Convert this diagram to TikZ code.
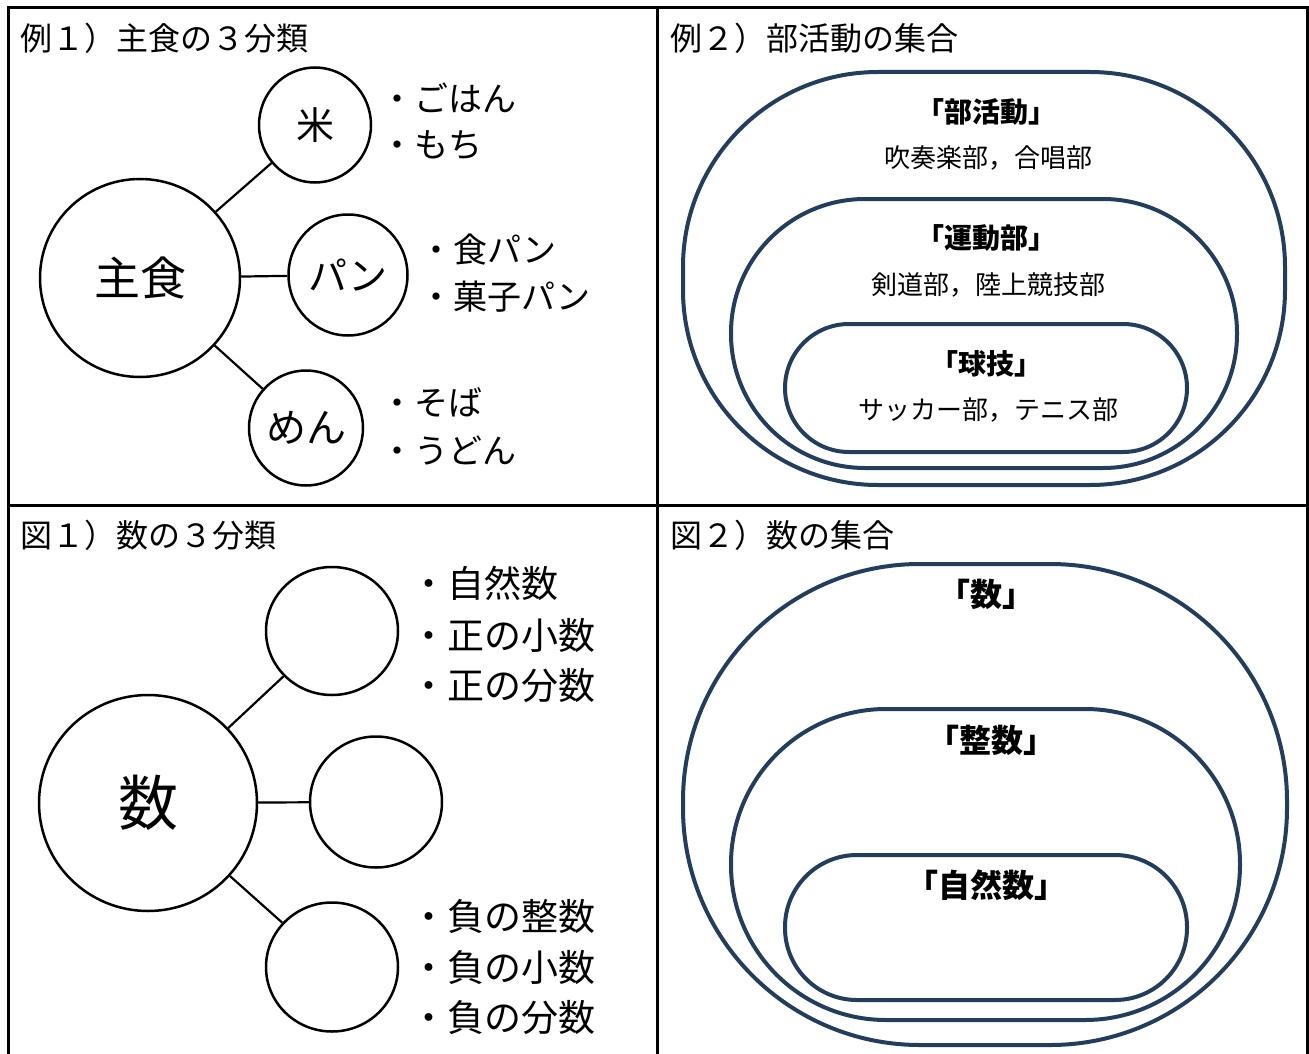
\documentclass[tikz,border=0pt]{standalone}
\usepackage{fontspec}
\setmainfont{Noto Sans CJK JP}
\usetikzlibrary{shapes.geometric}
\definecolor{navy}{RGB}{35,62,92}
\tikzset{
  frameline/.style={line width=3pt, line cap=rect},
  bub/.style={draw, ellipse, line width=2.5pt, inner sep=0pt},
  link/.style={line width=2.2pt},
  setbox/.style={draw=navy, line width=4pt, rectangle, inner sep=0pt},
  ttl/.style={anchor=west, inner sep=0pt, font=\fontsize{32}{36}\selectfont},
  itemA/.style={anchor=west, inner sep=0pt, font=\fontsize{34}{38}\selectfont},
  itemB/.style={anchor=west, inner sep=0pt, font=\fontsize{37}{40}\selectfont},
  sethead/.style={inner sep=0pt, font=\fontsize{28}{32}\selectfont\bfseries},
  setbody/.style={inner sep=0pt, font=\fontsize{26}{30}\selectfont},
  setheadB/.style={inner sep=0pt, font=\fontsize{32}{36}\selectfont\bfseries},
}
\begin{document}
\begin{tikzpicture}[x=1pt,y=-1pt]
\useasboundingbox (0,0) rectangle (1309,1054);
% frame
\draw[frameline] (8,1054) -- (8,8) -- (1307,8) -- (1307,1054);
\draw[frameline] (657,8) -- (657,1054);
\draw[frameline] (8,505) -- (1307,505);

% ---------- Panel 1 ----------
\node[ttl] (t1) at (20,38) {例１）主食の３分類};
\node[bub, minimum width=200pt, minimum height=198pt, font=\fontsize{46}{50}\selectfont] (main) at (140,278) {主食};
\node[bub, minimum width=112pt, minimum height=115pt, font=\fontsize{38}{42}\selectfont] (rice) at (315,125) {米};
\node[bub, minimum width=119pt, minimum height=121pt, font=\fontsize{39}{43}\selectfont] (bread) at (348,275) {パン};
\node[bub, minimum width=114pt, minimum height=115pt, font=\fontsize{40}{44}\selectfont] (noodle) at (306,428) {めん};
\draw[link] (main) -- (rice);
\draw[link] (main) -- (bread);
\draw[link] (main) -- (noodle);
\node[itemA] (r1) at (380,98) {・ごはん};
\node[itemA] (r2) at (380,145) {・もち};
\node[itemA] (b1) at (419,250) {・食パン};
\node[itemA] (b2) at (419,297) {・菓子パン};
\node[itemA] (n1) at (380,402) {・そば};
\node[itemA] (n2) at (380,450) {・うどん};

% ---------- Panel 2 ----------
\node[ttl] (t2) at (670,38) {例２）部活動の集合};
\node[setbox, rounded corners=195pt, minimum width=602pt, minimum height=413pt] (club) at (984,278.5) {};
\node[setbox, rounded corners=134pt, minimum width=506pt, minimum height=269pt] (sport) at (984,333.5) {};
\node[setbox, rounded corners=64pt, minimum width=402pt, minimum height=128pt] (ball) at (986,388) {};
\node[sethead] (h1) at (986,112) {「部活動」};
\node[setbody] (s1) at (988,158) {吹奏楽部，合唱部};
\node[sethead] (h2) at (986,238) {「運動部」};
\node[setbody] (s2) at (988,285) {剣道部，陸上競技部};
\node[sethead] (h3) at (986,364) {「球技」};
\node[setbody] (s3) at (988,410) {サッカー部，テニス部};

% ---------- Panel 3 ----------
\node[ttl] (t3) at (20,535) {図１）数の３分類};
\node[bub, minimum width=218pt, minimum height=216pt, font=\fontsize{60}{64}\selectfont] (num) at (148,803) {数};
\node[bub, minimum width=132pt, minimum height=128pt] (pos) at (332,631) {};
\node[bub, minimum width=132pt, minimum height=131pt] (zero) at (376,802) {};
\node[bub, minimum width=132pt, minimum height=129pt] (neg) at (332,967) {};
\draw[link] (num) -- (pos);
\draw[link] (num) -- (zero);
\draw[link] (num) -- (neg);
\node[itemB] (p1) at (410,583) {・自然数};
\node[itemB] (p2) at (410,635) {・正の小数};
\node[itemB] (p3) at (410,686) {・正の分数};
\node[itemB] (q1) at (410,916) {・負の整数};
\node[itemB] (q2) at (410,967) {・負の小数};
\node[itemB] (q3) at (410,1018) {・負の分数};

% ---------- Panel 4 ----------
\node[ttl] (t4) at (670,535) {図２）数の集合};
\node[setbox, rounded corners=237pt, minimum width=604pt, minimum height=481pt] (all) at (985,804.5) {};
\node[setbox, rounded corners=155pt, minimum width=509pt, minimum height=311pt] (int) at (985.5,864.5) {};
\node[setbox, rounded corners=72pt, minimum width=402pt, minimum height=145pt] (nat) at (986,927.5) {};
\node[setheadB] (g1) at (986,594) {「数」};
\node[setheadB] (g2) at (991,740) {「整数」};
\node[setheadB] (g3) at (986,885) {「自然数」};
\end{tikzpicture}
\end{document}
